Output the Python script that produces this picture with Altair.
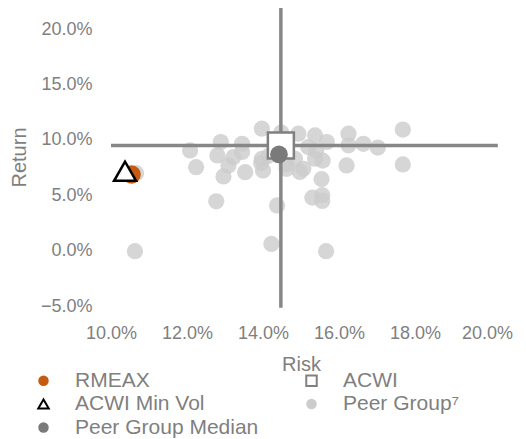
import altair as alt
import pandas as pd

# ---- data (percent units) ----
peer_risk = [10.66, 10.63, 12.08, 12.24, 12.77, 12.80, 12.89, 12.96, 13.09, 13.22,
             13.45, 13.45, 13.53, 13.97, 13.97, 14.00, 13.95, 14.22, 14.37, 14.48,
             14.62, 14.93, 14.84, 15.06, 14.97, 15.19, 15.37, 15.37, 15.40, 15.57,
             15.54, 15.30, 15.56, 15.56, 15.66, 15.68, 16.25, 16.25, 16.20, 16.64,
             17.02, 17.68, 17.68, 14.62, 14.15]
peer_return = [6.99, -0.05, 9.04, 7.53, 4.45, 8.59, 9.80, 6.69, 7.69, 8.43,
               9.64, 8.90, 7.08, 11.00, 8.29, 7.23, 7.90, 0.60, 4.08, 10.65,
               7.80, 10.55, 8.29, 7.38, 7.10, 9.34, 10.40, 8.29, 9.00, 8.12,
               6.45, 4.78, 5.00, 4.48, -0.05, 9.80, 10.55, 9.50, 7.69, 9.64,
               9.30, 10.92, 7.78, 7.38, 8.55]

# legend order (Vega fills legend columns top-to-bottom)
series_names = ["RMEAX", "ACWI Min Vol", "Peer Group Median", "ACWI", "Peer Group\u2077"]
series_risk = [10.54, 10.37, 14.42, 14.47, None]
series_return = [6.87, 7.16, 8.68, 9.49, None]

fill_colors = ["#c55a11", "#ffffff", "#7a7a7a", "#ffffff", "#cccccc"]
stroke_colors = ["transparent", "#000000", "transparent", "#808080", "transparent"]
shapes = ["circle", "triangle-up", "circle", "square", "circle"]

x_ticks = [10, 12, 14, 16, 18, 20]
y_ticks = [-5, 0, 5, 10, 15, 20]

# crosshair through ACWI
h_line = {"x0": 10.0, "x1": 20.18, "y": 9.49}
v_line = {"x": 14.47, "y0": -5.15, "y1": 22.06}

GRAY = "#7f7f7f"
FONT = "Liberation Sans, Arial"

peers = pd.DataFrame({"risk": peer_risk, "ret": peer_return,
                      "series": ["Peer Group\u2077"] * len(peer_risk)})

def pt(name):
    i = series_names.index(name)
    return pd.DataFrame({"risk": [series_risk[i]], "ret": [series_return[i]], "series": [name]})

legend = alt.Legend(title=None, orient="none", legendX=-78, legendY=341,
                    columns=2, columnPadding=42, rowPadding=1.5,
                    labelFontSize=21, labelFont=FONT, labelColor=GRAY,
                    labelOffset=21, symbolSize=110, symbolStrokeWidth=2,
                    symbolOpacity=1, padding=0, labelLimit=300)

x_enc = alt.X("risk:Q", title="Risk",
              scale=alt.Scale(domain=[10, 20], nice=False, zero=False),
              axis=alt.Axis(values=x_ticks, labelExpr="format(datum.value, '.1f') + '%'",
                            domain=False, ticks=False, grid=False, labelOverlap=False,
                            labelFlush=False, labelBound=False,
                            labelOffset={"expr": "datum.value == 20 ? -4 : 0"},
                            labelFont=FONT, labelFontSize=18, labelColor=GRAY,
                            labelPadding=18, titleFont=FONT, titleFontSize=20,
                            titleColor=GRAY, titleFontWeight="normal", titlePadding=12))
y_enc = alt.Y("ret:Q", title="Return",
              scale=alt.Scale(domain=[-5, 20], nice=False, zero=False),
              axis=alt.Axis(values=y_ticks, labelExpr="format(datum.value, '.1f') + '%'",
                            domain=False, ticks=False, grid=False, labelOverlap=False,
                            labelFlush=False, labelBound=False,
                            labelFont=FONT, labelFontSize=18, labelColor=GRAY,
                            labelPadding=19, titleFont=FONT, titleFontSize=20,
                            titleColor=GRAY, titleFontWeight="normal",
                            titleX=-82, titleY=128))

def enc(chart):
    return chart.encode(
        x=x_enc, y=y_enc,
        fill=alt.Fill("series:N", scale=alt.Scale(domain=series_names, range=fill_colors), legend=legend),
        stroke=alt.Stroke("series:N", scale=alt.Scale(domain=series_names, range=stroke_colors), legend=legend),
        shape=alt.Shape("series:N", scale=alt.Scale(domain=series_names, range=shapes), legend=legend),
    )

peer_layer = enc(alt.Chart(peers).mark_point(filled=True, size=263, opacity=0.8, strokeWidth=0))

hrule = alt.Chart(pd.DataFrame([h_line])).mark_rule(color="#878787", strokeWidth=3.5).encode(
    x=alt.X("x0:Q"), x2="x1:Q", y=alt.Y("y:Q"))
vrule = alt.Chart(pd.DataFrame([v_line])).mark_rule(color="#878787", strokeWidth=3.5).encode(
    x=alt.X("x:Q"), y=alt.Y("y0:Q"), y2="y1:Q")

acwi_layer = enc(alt.Chart(pt("ACWI")).mark_point(filled=True, size=676, strokeWidth=2.5, opacity=1))
median_layer = enc(alt.Chart(pt("Peer Group Median")).mark_point(filled=True, size=314, strokeWidth=0, opacity=1))
rmeax_layer = enc(alt.Chart(pt("RMEAX")).mark_point(filled=True, size=346, strokeWidth=0, opacity=1))
minvol_layer = enc(alt.Chart(pt("ACWI Min Vol")).mark_point(filled=True, size=484, strokeWidth=2.5, opacity=1))

chart = alt.layer(peer_layer, hrule, vrule, acwi_layer, median_layer, rmeax_layer, minvol_layer).properties(
    width=380, height=277,
    autosize=alt.AutoSizeParams(type="none"),
    padding={"left": 103, "top": 21, "right": 27, "bottom": 133},
    background="white",
).configure_view(stroke=None)

chart.save("out.html", embed_options={"renderer": "svg", "actions": False})
